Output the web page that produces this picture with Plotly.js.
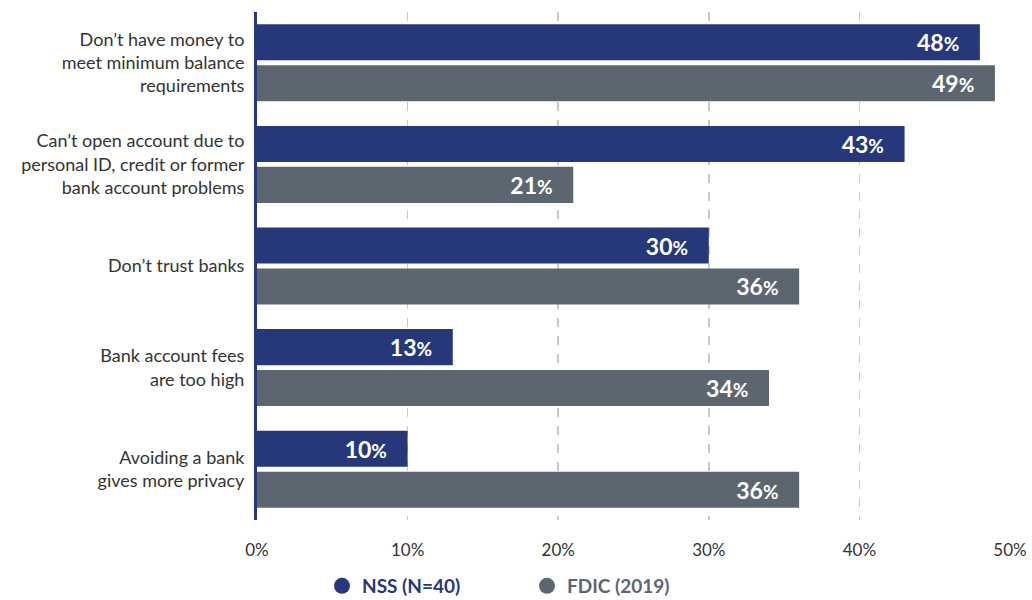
<!DOCTYPE html>
<html><head><meta charset="utf-8">
<script src="https://cdn.plot.ly/plotly-3.0.1.min.js"></script>
<style>body{margin:0;background:#fff}#c{width:1032px;height:600px}</style>
</head><body><div id="c"></div>
<script>
const categories = [
  "Don’t have money to<br>meet minimum balance<br>requirements",
  "Can’t open account due to<br>personal ID, credit or former<br>bank account problems",
  "Don’t trust banks",
  "Bank account fees<br>are too high",
  "Avoiding a bank<br>gives more privacy"
];
const nssValues = [48, 43, 30, 13, 10];
const fdicValues = [49, 21, 36, 34, 36];
const seriesNames = ["NSS (N=40)", "FDIC (2019)"];
const colors = ["#26387a", "#5c6670"];
const tickVals = [0, 10, 20, 30, 40, 50];
const tickText = ["0%", "10%", "20%", "30%", "40%", "50%"];

const FONT = "Lato, 'Open Sans', sans-serif";
function barTrace(vals, i) {
  return {
    type: "bar", orientation: "h",
    x: vals, y: categories,
    marker: {color: colors[i]},
    text: vals.map(v => "<b>" + v + "</b><span style='font-size:19px'><b>%</b></span>\u00a0\u00a0\u00a0"),
    textposition: "inside", insidetextanchor: "end", constraintext: "none",
    textfont: {family: FONT, size: 23, color: "#ffffff"},
    cliponaxis: false,
    showlegend: false, hoverinfo: "skip"
  };
}
const legendTrace = (i) => ({
  type: "scatter", mode: "markers", x: [null], y: [null],
  name: "<b><span style='color:" + colors[i] + "'>" + seriesNames[i] + "</span></b>",
  marker: {color: colors[i], size: 22, symbol: "circle"},
  showlegend: true, hoverinfo: "skip"
});

const data = [barTrace(nssValues, 0), barTrace(fdicValues, 1), legendTrace(0), legendTrace(1)];
const L = 257, R = 22, T = 12, B = 80, W = 1032, H = 600;
const layout = {
  width: W, height: H,
  margin: {l: L, r: R, t: T, b: B, autoexpand: false},
  paper_bgcolor: "#fff", plot_bgcolor: "#fff",
  barmode: "group", bargap: 0.194, bargroupgap: 0.12,
  font: {family: FONT, color: "#333"},
  xaxis: {
    range: [0, 50], tickvals: tickVals, ticktext: tickText,
    showgrid: true, gridcolor: "#c8c8c8", griddash: "dash", gridwidth: 1.5,
    zeroline: false, showline: false,
    tickfont: {family: FONT, size: 17, color: "#333"},
    ticks: "outside", ticklen: 15, tickcolor: "rgba(0,0,0,0)",
    fixedrange: true
  },
  yaxis: {
    autorange: "reversed", type: "category",
    showline: true, linecolor: "#26387a", linewidth: 3,
    showgrid: false, zeroline: false,
    tickfont: {family: FONT, size: 18, color: "#333"},
    ticks: "outside", ticklen: 6, tickcolor: "rgba(0,0,0,0)",
    fixedrange: true
  },
  legend: {
    orientation: "h", xref: "paper", yref: "paper",
    x: (527 - L) / (W - L - R), xanchor: "center",
    y: 1 - (586 - T) / (H - T - B), yanchor: "middle",
    font: {family: FONT, size: 19},
    itemsizing: "trace", tracegroupgap: 0, entrywidth: 160
  },
  showlegend: true
};
Plotly.newPlot("c", data, layout, {displayModeBar: false, staticPlot: true});
</script>
</body></html>
